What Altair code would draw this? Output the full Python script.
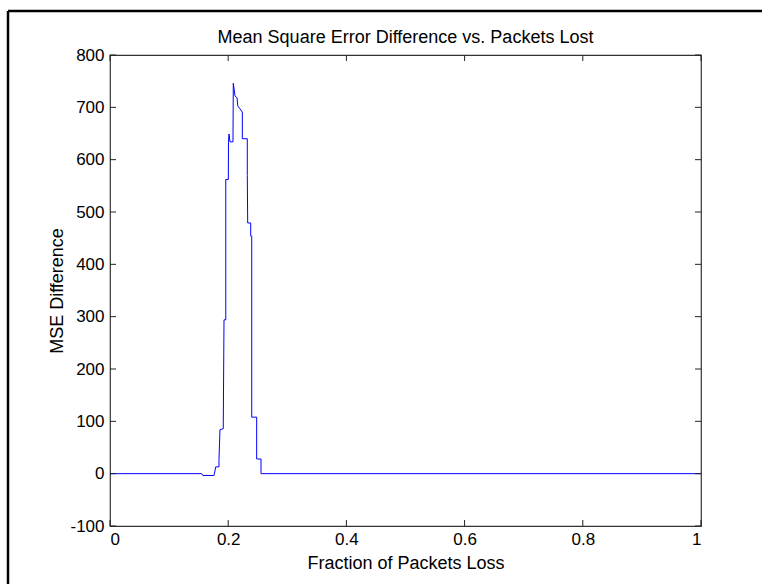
import altair as alt
import pandas as pd

# Curve (fraction of packets lost vs MSE difference)
frac = [0.0, 0.1552, 0.1570, 0.1760, 0.1789, 0.1844, 0.1844, 0.1861, 0.1917, 0.1917,
        0.1929, 0.1959, 0.1959, 0.2002, 0.2005, 0.2014, 0.2030, 0.2081, 0.2086, 0.2115,
        0.2150, 0.2161, 0.2200, 0.2239, 0.2239, 0.2323, 0.2323, 0.2330, 0.2381, 0.2381,
        0.2398, 0.2398, 0.2482, 0.2482, 0.2555, 0.2555, 1.0]
mse = [0, 0, -3.5, -3.5, 13, 13, 27, 84, 86, 97,
       294, 294, 562, 562, 635, 649, 634, 634, 746, 722,
       718, 703, 697, 691, 640, 640, 570, 479, 479, 454,
       454, 108, 108, 28, 28, 0, 0]

x_ticks = [0, 0.2, 0.4, 0.6, 0.8, 1]
y_ticks = [-100, 0, 100, 200, 300, 400, 500, 600, 700, 800]
title_text = "Mean Square Error Difference vs. Packets Lost"

W, H = 591, 471
FONT = "Liberation Sans"

df = pd.DataFrame({"frac": frac, "mse": mse, "idx": list(range(len(frac)))})
xt = pd.DataFrame({"t": x_ticks})
yt = pd.DataFrame({"t": y_ticks})
one = pd.DataFrame({"label": [title_text]})

xscale = alt.Scale(domain=[0, 1], nice=False, zero=False)
yscale = alt.Scale(domain=[-100, 800], nice=False, zero=False)

line = alt.Chart(df).mark_line(color="#0000ff", strokeWidth=1, interpolate="linear").encode(
    x=alt.X("frac:Q", scale=xscale,
            axis=alt.Axis(values=x_ticks, title="Fraction of Packets Loss",
                          labelExpr="datum.value + ''", domain=False, ticks=False,
                          grid=False, labelPadding=5, titlePadding=7,
                          labelFontSize=17)),
    y=alt.Y("mse:Q", scale=yscale,
            axis=alt.Axis(values=y_ticks, title="MSE Difference",
                          labelExpr="datum.value + ''", domain=False, ticks=False,
                          grid=False, labelPadding=6, titlePadding=3,
                          labelFontSize=17)),
    order="idx:Q",
)

tick_col = "#222222"
xb = alt.Chart(xt).mark_rule(color=tick_col, strokeWidth=1).encode(
    x=alt.X("t:Q", scale=xscale), y=alt.value(H), y2=alt.value(H - 6))
xtp = alt.Chart(xt).mark_rule(color=tick_col, strokeWidth=1).encode(
    x=alt.X("t:Q", scale=xscale), y=alt.value(0), y2=alt.value(6))
yl = alt.Chart(yt).mark_rule(color=tick_col, strokeWidth=1).encode(
    y=alt.Y("t:Q", scale=yscale), x=alt.value(0), x2=alt.value(6))
yr = alt.Chart(yt).mark_rule(color=tick_col, strokeWidth=1).encode(
    y=alt.Y("t:Q", scale=yscale), x=alt.value(W), x2=alt.value(W - 6))

frame_top = alt.Chart(one).mark_rule(color="black", strokeWidth=2.5).encode(
    x=alt.value(-102), x2=alt.value(W + 80), y=alt.value(-44))
frame_left = alt.Chart(one).mark_rule(color="black", strokeWidth=2.5).encode(
    x=alt.value(-102), y=alt.value(-44), y2=alt.value(H + 80))

title = alt.Chart(one).mark_text(font=FONT, fontSize=18, color="black",
                                 align="center", baseline="alphabetic").encode(
    text="label:N", x=alt.value(W / 2), y=alt.value(-12))

chart = alt.layer(line, xb, xtp, yl, yr, frame_top, frame_left, title).properties(
    width=W, height=H,
    autosize=alt.AutoSizeParams(type="none"),
    padding={"left": 110, "top": 55, "right": 61, "bottom": 58},
).configure(
    background="white"
).configure_view(
    stroke="#333333", strokeWidth=1.2
).configure_axis(
    labelFont=FONT, titleFont=FONT, labelFontSize=17, titleFontSize=18,
    labelColor="black", titleColor="black", titleFontWeight="normal"
)

chart.save("out.html", embed_options={"renderer": "svg", "actions": False})
